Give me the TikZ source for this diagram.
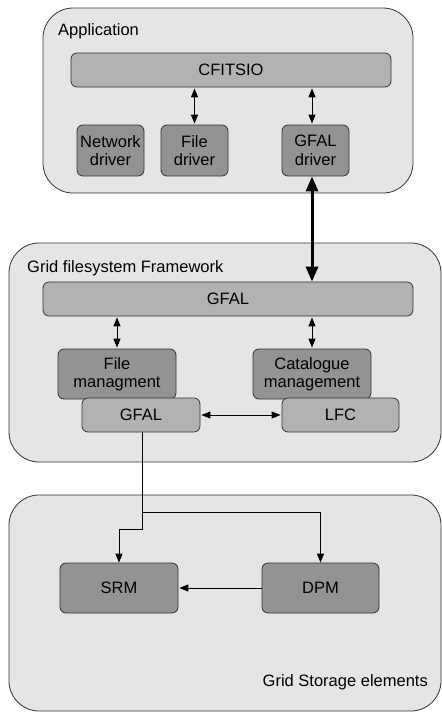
\documentclass[tikz,border=0pt]{standalone}
\usepackage{fontspec}
\setmainfont{Liberation Sans}
\usetikzlibrary{arrows.meta,calc}
\definecolor{outerfill}{HTML}{E5E5E5}
\definecolor{barfill}{HTML}{B2B2B2}
\definecolor{darkfill}{HTML}{939393}
\definecolor{edge}{HTML}{333333}
\begin{document}
\begin{tikzpicture}[x=1pt,y=-1pt,
  font=\fontsize{16.5}{18.5}\selectfont,
  container/.style={draw=edge,line width=0.8pt,fill=outerfill,rounded corners=30pt,inner sep=0pt},
  bar/.style={draw=edge,line width=0.8pt,fill=barfill,rounded corners=6pt,inner sep=0pt,align=center},
  darkbox/.style={draw=edge,line width=0.8pt,fill=darkfill,rounded corners=6pt,inner sep=0pt,align=center},
  lbl/.style={inner sep=0pt},
  link/.style={line width=1pt,-{Triangle[length=9pt,width=7pt]}},
  dlink/.style={line width=1pt,{Triangle[length=9pt,width=7pt]}-{Triangle[length=9pt,width=7pt]},shorten <=1pt,shorten >=1pt},
  thick link/.style={line width=3pt,{Triangle[length=15pt,width=12pt]}-{Triangle[length=15pt,width=12pt]}}
]
\useasboundingbox (0,0) rectangle (442,713);
% containers
\node[container,minimum width=370pt,minimum height=185pt] (app) at (228,100.5) {};
\node[container,minimum width=432pt,minimum height=219pt] (gfw) at (225,352.5) {};
\node[container,minimum width=432pt,minimum height=216pt] (gse) at (225,603) {};
\node[lbl,anchor=west] (applbl) at (58,31) {Application};
\node[lbl,anchor=west] (gfwlbl) at (27,268) {Grid filesystem Framework};
\node[lbl,anchor=east] (gselbl) at (428,682) {Grid Storage elements};
% application
\node[bar,minimum width=320pt,minimum height=34pt] (cfitsio) at (231,70) {CFITSIO};
\node[darkbox,minimum width=67pt,minimum height=51pt] (netdrv) at (110.5,150.5) {Network\\driver};
\node[darkbox,minimum width=67pt,minimum height=51pt] (filedrv) at (194.5,150.5) {File\\driver};
\node[darkbox,minimum width=67pt,minimum height=51pt] (gfaldrv) at (315.5,150.5) {GFAL\\driver};
\coordinate (ax) at (312,0);
% framework
\node[bar,minimum width=370pt,minimum height=34pt] (gfal) at (228,299) {GFAL};
\node[darkbox,minimum width=118pt,minimum height=50pt] (filemgmt) at (117,374) {File\\managment};
\node[darkbox,minimum width=118pt,minimum height=50pt] (catmgmt) at (312,374) {Catalogue\\management};
\node[bar,minimum width=118pt,minimum height=34pt] (gfalsm) at (141,415) {GFAL};
\node[bar,minimum width=117pt,minimum height=34pt] (lfc) at (340.5,415) {LFC};
% storage
\node[darkbox,minimum width=118pt,minimum height=50pt] (srm) at (119,588) {SRM};
\node[darkbox,minimum width=117pt,minimum height=50pt] (dpm) at (320.5,588) {DPM};
\coordinate (bx) at (142,0);
\coordinate (junc) at (142,512);
\coordinate (bend) at (142,529);
% connectors
\draw[dlink] (cfitsio.south -| filedrv) -- (filedrv.north);
\draw[dlink] (cfitsio.south -| ax) -- (gfaldrv.north -| ax);
\draw[thick link] (gfaldrv.south -| ax) -- (gfal.north -| ax);
\draw[dlink] (gfal.south -| filemgmt) -- (filemgmt.north);
\draw[dlink] (gfal.south -| catmgmt) -- (catmgmt.north);
\draw[dlink] (gfalsm.east) -- (lfc.west);
\draw[line width=1pt] (gfalsm.south -| bx) -- (junc);
\draw[link] (junc) -| (dpm.north);
\draw[link] (junc) -- (bend) -| (srm.north);
\draw[link,shorten >=1pt] (dpm.west) -- (srm.east);
\end{tikzpicture}
\end{document}
